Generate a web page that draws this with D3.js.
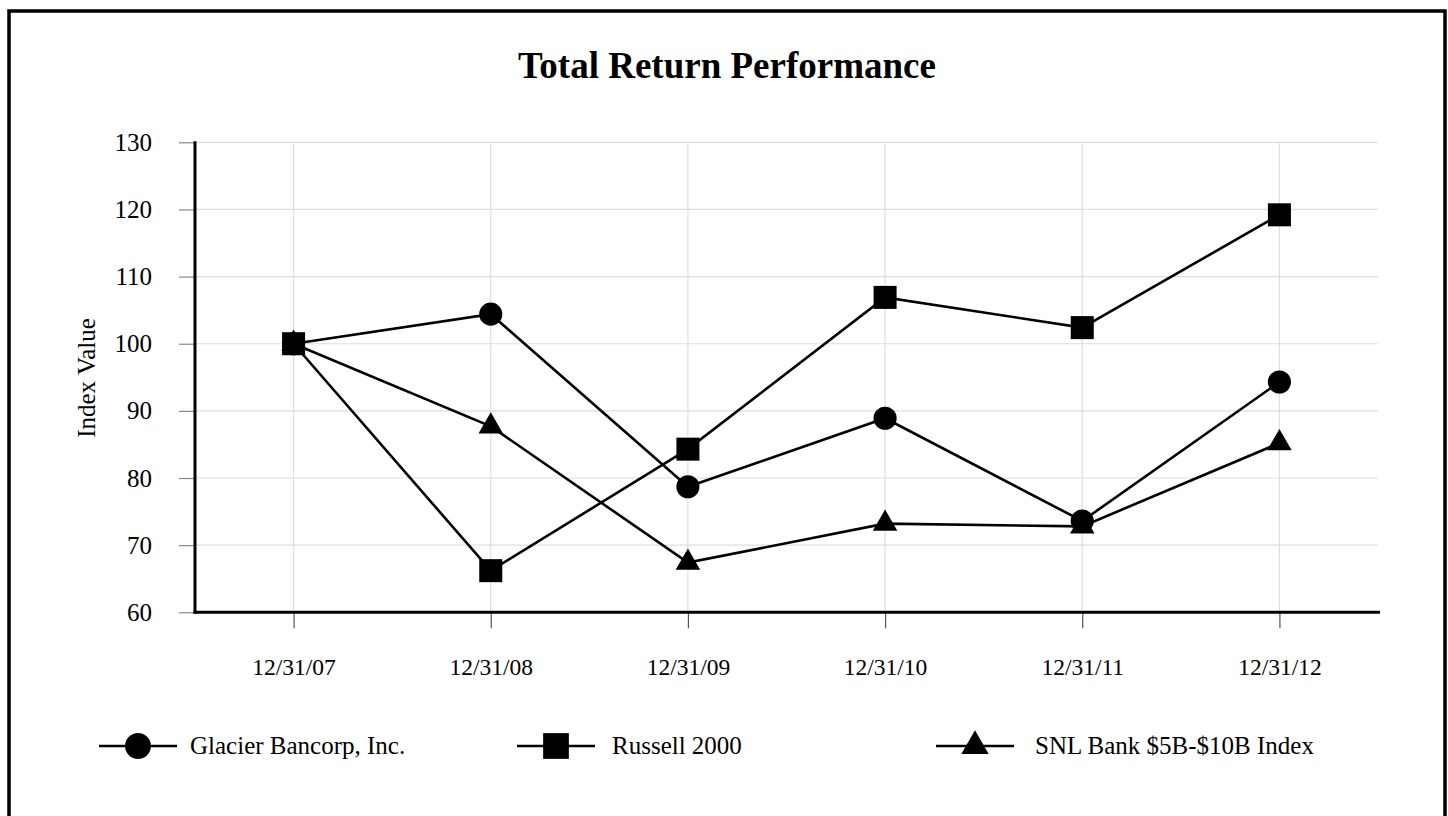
<!DOCTYPE html>
<html>
<head>
<meta charset="utf-8">
<script src="https://cdn.jsdelivr.net/npm/d3@7"></script>
<style>
  body { margin: 0; background: #fff; }
  svg text { font-family: "Liberation Serif", "Times New Roman", serif; fill: #000; }
</style>
</head>
<body>
<div></div>
<script>
// data
let dates = ['12/31/07', '12/31/08', '12/31/09', '12/31/10', '12/31/11', '12/31/12']
let glacier = [100, 104.4, 78.7, 88.9, 73.6, 94.3]
let russell = [100, 66.2, 84.3, 106.9, 102.4, 119.2]
let snl = [100, 87.7, 67.4, 73.2, 72.8, 85.2]
let seriesNames = ['Glacier Bancorp, Inc.', 'Russell 2000', 'SNL Bank $5B-$10B Index']
let yTicks = [60, 70, 80, 90, 100, 110, 120, 130]

let width = 1448
let height = 816
let plotLeft = 195, plotRight = 1378, plotTop = 142.3, plotBottom = 612.3

var svg = d3.select('div')
  .append('svg')
  .attr('width', width)
  .attr('height', height)

// outer frame
svg.append('rect')
  .attr('x', 9).attr('y', 11)
  .attr('width', 1436).attr('height', 840)
  .attr('fill', 'none')
  .attr('stroke', '#000')
  .attr('stroke-width', 3.5)

svg.append('text')
  .attr('x', 727).attr('y', 78)
  .attr('text-anchor', 'middle')
  .attr('font-size', 37)
  .attr('font-weight', 'bold')
  .text('Total Return Performance')

var x = d3.scalePoint().domain(dates).range([plotLeft, plotRight]).padding(0.5)
var y = d3.scaleLinear().domain([60, 130]).range([plotBottom, plotTop])

// grid
svg.append('g')
  .selectAll('line')
  .data(yTicks)
  .enter().append('line')
  .attr('x1', plotLeft).attr('x2', plotRight)
  .attr('y1', d => y(d)).attr('y2', d => y(d))
  .attr('stroke', '#dedede').attr('stroke-width', 1.2)

svg.append('g')
  .selectAll('line')
  .data(dates)
  .enter().append('line')
  .attr('x1', d => x(d)).attr('x2', d => x(d))
  .attr('y1', plotTop).attr('y2', plotBottom)
  .attr('stroke', '#dedede').attr('stroke-width', 1.2)

// y axis
var yAxis = svg.append('g')
  .attr('transform', `translate(${plotLeft},0)`)
  .call(d3.axisLeft(y).tickValues(yTicks).tickSize(16).tickPadding(27).tickSizeOuter(0))
yAxis.select('.domain').remove()
yAxis.selectAll('.tick line').attr('stroke', '#888').attr('stroke-width', 1.2)
yAxis.selectAll('.tick text')
  .attr('font-size', 25)
  .attr('font-family', '"Liberation Serif", serif')

svg.append('line')
  .attr('x1', plotLeft).attr('x2', plotLeft)
  .attr('y1', plotTop - 1).attr('y2', plotBottom + 1.5)
  .attr('stroke', '#000').attr('stroke-width', 3)

// x axis
var xAxis = svg.append('g')
  .attr('transform', `translate(0,${plotBottom})`)
  .call(d3.axisBottom(x).tickSize(16).tickPadding(30).tickSizeOuter(0))
xAxis.select('.domain').remove()
xAxis.selectAll('.tick line').attr('stroke', '#555').attr('stroke-width', 1.2)
xAxis.selectAll('.tick text')
  .attr('font-size', 23.5)
  .attr('font-family', '"Liberation Serif", serif')

svg.append('line')
  .attr('x1', plotLeft - 1.5).attr('x2', plotRight + 2)
  .attr('y1', plotBottom).attr('y2', plotBottom)
  .attr('stroke', '#000').attr('stroke-width', 3)

svg.append('text')
  .attr('transform', 'translate(95,378) rotate(-90)')
  .attr('text-anchor', 'middle')
  .attr('font-size', 25)
  .text('Index Value')

// lines + markers
let series = [
  { name: seriesNames[0], values: glacier, shape: d3.symbolCircle, size: 420 },
  { name: seriesNames[1], values: russell, shape: d3.symbolSquare, size: 530 },
  { name: seriesNames[2], values: snl, shape: d3.symbolTriangle, size: 260 }
]

var line = d3.line()
  .x((d, i) => x(dates[i]))
  .y(d => y(d))

series.forEach(function(s) {
  svg.append('path')
    .attr('d', line(s.values))
    .attr('fill', 'none')
    .attr('stroke', '#000')
    .attr('stroke-width', 2.6)
})

series.forEach(function(s) {
  svg.append('g')
    .selectAll('path')
    .data(s.values)
    .enter().append('path')
    .attr('d', d3.symbol().type(s.shape).size(s.size))
    .attr('transform', (d, i) => `translate(${x(dates[i])},${y(d)})`)
    .attr('fill', '#000')
})

// legend
let legendX = [138, 556, 975]
let legendTextX = [190, 612, 1035]
let ly = 746

var legend = svg.selectAll('.legend')
  .data(series)
  .enter().append('g')
  .attr('class', 'legend')

legend.append('line')
  .attr('x1', (d, i) => legendX[i] - 39)
  .attr('x2', (d, i) => legendX[i] + 39)
  .attr('y1', ly).attr('y2', ly)
  .attr('stroke', '#000').attr('stroke-width', 2.6)

legend.append('path')
  .attr('d', d => d3.symbol().type(d.shape).size(d.size * 1.25)())
  .attr('transform', (d, i) => `translate(${legendX[i]},${ly})`)
  .attr('fill', '#000')

legend.append('text')
  .attr('x', (d, i) => legendTextX[i])
  .attr('y', ly + 8)
  .attr('font-size', 25)
  .text(d => d.name)
</script>
</body>
</html>
